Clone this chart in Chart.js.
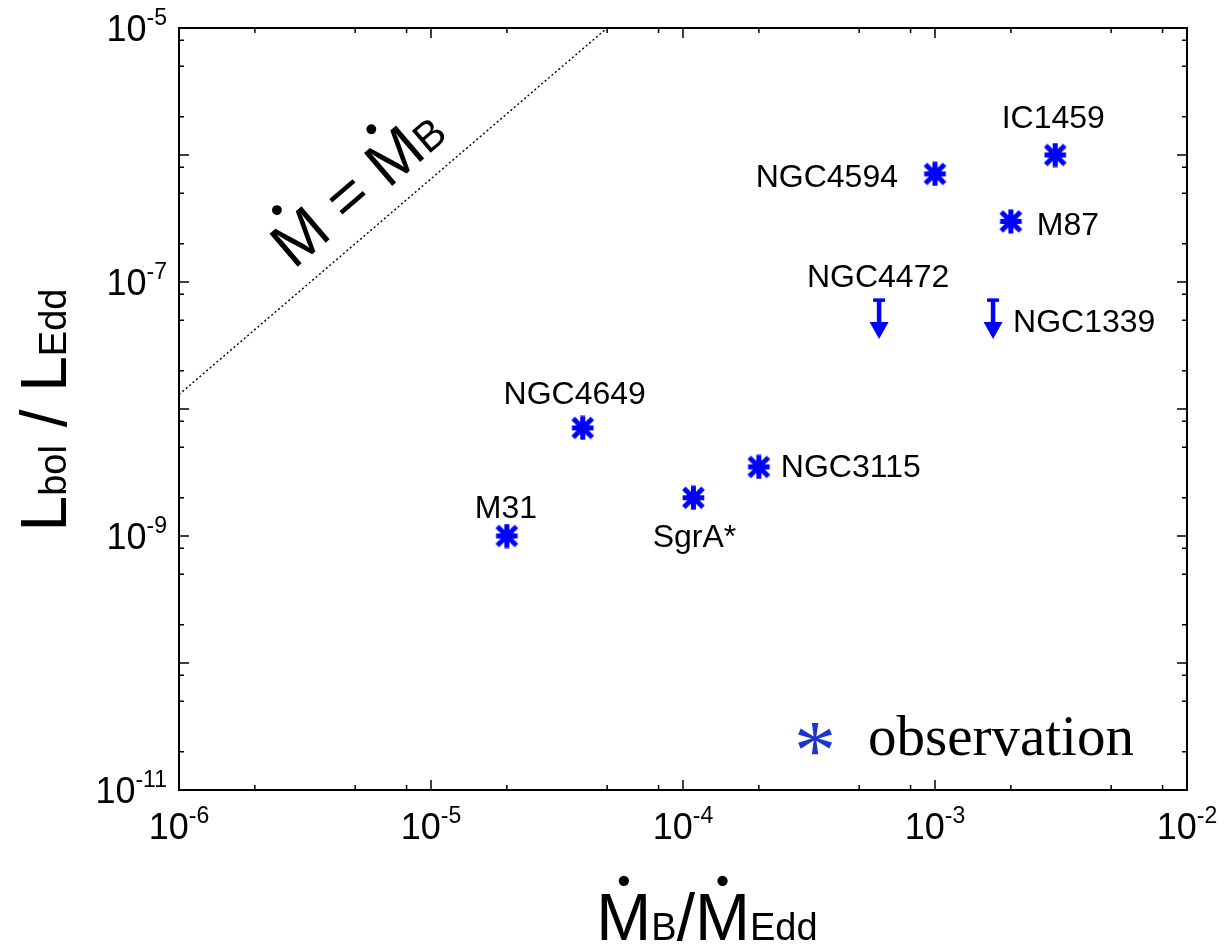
<!DOCTYPE html>
<html>
<head>
<meta charset="utf-8">
<script src="https://cdn.jsdelivr.net/npm/chart.js@4/dist/chart.umd.min.js"></script>
<style>
  html, body { margin: 0; padding: 0; background: #ffffff; }
  #wrap { width: 1227px; height: 946px; }
</style>
</head>
<body>
<div id="wrap"><canvas id="chart" width="1227" height="946"></canvas></div>
<script>
// Detected sources: Bondi accretion rate vs. bolometric luminosity (Eddington units)
const galaxies   = ['M31', 'NGC4649', 'SgrA*', 'NGC3115', 'NGC4594', 'M87', 'IC1459'];
const bondiRate  = [2e-5, 4e-5, 1.1e-4, 2e-4, 1e-3, 2e-3, 3e-3];
const lumRatio   = [1e-9, 7.1e-9, 2e-9, 3.5e-9, 7.1e-7, 3e-7, 1e-6];

// Sources with luminosity upper limits only
const limitGalaxies  = ['NGC4472', 'NGC1339'];
const limitBondiRate = [6e-4, 1.7e-3];
const limitLumRatio  = [7.2e-8, 7.2e-8];

// Reference relation  Mdot = Mdot_B
const equalityLineX = [1e-6, 5e-5];
const equalityLineY = [1.3e-8, 1e-5];

// Axis ticks (powers of ten)
const xTickExponents  = [-6, -5, -4, -3, -2];
const yTickExponents  = [-5, -7, -9, -11];
const xDecades        = [-6, -5, -4, -3, -2];
const yDecades        = [-11, -10, -9, -8, -7, -6, -5];
const minorMantissas  = [2, 5, 8];

// Where each name sits relative to its marker (pixels)
const labelPlacement = {
  'IC1459':  { dx: -2,  dy: -27, align: 'center' },
  'NGC4594': { dx: -37, dy: 13,  align: 'right'  },
  'M87':     { dx: 26,  dy: 14,  align: 'left'   },
  'NGC4472': { dx: -1,  dy: -13, align: 'center' },
  'NGC1339': { dx: 20,  dy: 32,  align: 'left'   },
  'NGC4649': { dx: -8,  dy: -24, align: 'center' },
  'M31':     { dx: -1,  dy: -18, align: 'center' },
  'SgrA*':   { dx: 1,   dy: 49,  align: 'center' },
  'NGC3115': { dx: 22,  dy: 10,  align: 'left'   }
};

const SANS  = '"Liberation Sans", Arial, Helvetica, sans-serif';
const SERIF = '"Liberation Serif", "Times New Roman", Times, serif';
const BLUE  = '#0000ff';

// Bold eight-armed asterisk used as the point symbol
function makeAsterisk(size, lw, color) {
  const c = document.createElement('canvas');
  c.width = size; c.height = size;
  const g = c.getContext('2d');
  g.strokeStyle = color; g.lineWidth = lw; g.lineCap = 'butt';
  const m = size / 2, a = size / 2 - 0.5, d = a * 0.80;
  g.beginPath();
  g.moveTo(m, m - a); g.lineTo(m, m + a);
  g.moveTo(m - a * 0.9, m); g.lineTo(m + a * 0.9, m);
  g.moveTo(m - d, m - d); g.lineTo(m + d, m + d);
  g.moveTo(m + d, m - d); g.lineTo(m - d, m + d);
  g.stroke();
  return c;
}
const asteriskMarker = makeAsterisk(25, 5, BLUE);

// Draw a run of text pieces with mixed sizes on one baseline; pieces with dot:true get an over-dot
function richText(ctx, parts, x, y, align, family) {
  let total = 0;
  const widths = parts.map(p => {
    ctx.font = p.size + 'px ' + family;
    const w = ctx.measureText(p.t).width;
    total += w;
    return w;
  });
  let cx = align === 'center' ? x - total / 2 : (align === 'right' ? x - total : x);
  ctx.textAlign = 'left';
  ctx.textBaseline = 'alphabetic';
  parts.forEach((p, i) => {
    ctx.font = p.size + 'px ' + family;
    ctx.fillText(p.t, cx, y);
    if (p.dot) {
      const cap = p.size * 0.716;
      const r = p.size * 0.078;
      ctx.beginPath();
      ctx.arc(cx + widths[i] / 2, y - cap - p.size * 0.18, r, 0, Math.PI * 2);
      ctx.fill();
    }
    cx += widths[i];
  });
  return total;
}

const decorations = {
  id: 'decorations',
  afterDatasetsDraw(chart) {
    const ctx = chart.ctx;
    const xs = chart.scales.x, ys = chart.scales.y;
    const area = chart.chartArea;

    // upper-limit arrows
    const lim = chart.getDatasetMeta(1);
    ctx.save();
    ctx.strokeStyle = BLUE; ctx.fillStyle = BLUE;
    lim.data.forEach(el => {
      const x = el.x, y = el.y;
      ctx.lineWidth = 3.5;
      ctx.beginPath(); ctx.moveTo(x - 6, y); ctx.lineTo(x + 6, y); ctx.stroke();
      ctx.lineWidth = 4.5;
      ctx.beginPath(); ctx.moveTo(x, y); ctx.lineTo(x, y + 24); ctx.stroke();
      ctx.beginPath();
      ctx.moveTo(x - 9.5, y + 22); ctx.lineTo(x + 9.5, y + 22); ctx.lineTo(x, y + 39);
      ctx.closePath(); ctx.fill();
    });
    ctx.restore();

    // frame
    ctx.save();
    ctx.strokeStyle = '#000';
    ctx.lineWidth = 2;
    ctx.strokeRect(area.left, area.top, area.right - area.left, area.bottom - area.top);

    // ticks on all four sides, pointing inward
    ctx.lineWidth = 1.5;
    ctx.beginPath();
    const xTick = (v, len) => {
      const px = xs.getPixelForValue(v);
      ctx.moveTo(px, area.bottom); ctx.lineTo(px, area.bottom - len);
      ctx.moveTo(px, area.top); ctx.lineTo(px, area.top + len);
    };
    const yTick = (v, len) => {
      const py = ys.getPixelForValue(v);
      ctx.moveTo(area.left, py); ctx.lineTo(area.left + len, py);
      ctx.moveTo(area.right, py); ctx.lineTo(area.right - len, py);
    };
    xDecades.forEach((e, i) => {
      xTick(Math.pow(10, e), 10);
      if (i < xDecades.length - 1) minorMantissas.forEach(m => xTick(m * Math.pow(10, e), 5));
    });
    yDecades.forEach((e, i) => {
      yTick(Math.pow(10, e), 10);
      if (i < yDecades.length - 1) minorMantissas.forEach(m => yTick(m * Math.pow(10, e), 5));
    });
    ctx.stroke();

    // tick labels with superscript exponents
    const MAIN = 36, SUP = 23;
    ctx.fillStyle = '#000';
    xTickExponents.forEach(e => {
      const px = xs.getPixelForValue(Math.pow(10, e));
      ctx.font = MAIN + 'px ' + SANS;
      const wMain = ctx.measureText('10').width;
      ctx.font = SUP + 'px ' + SANS;
      const sup = String(e);
      const wSup = ctx.measureText(sup).width;
      const x0 = px - (wMain + wSup) / 2;
      ctx.textAlign = 'left'; ctx.textBaseline = 'alphabetic';
      ctx.font = MAIN + 'px ' + SANS;
      ctx.fillText('10', x0, area.bottom + 49);
      ctx.font = SUP + 'px ' + SANS;
      ctx.fillText(sup, x0 + wMain, area.bottom + 33);
    });
    yTickExponents.forEach(e => {
      const py = ys.getPixelForValue(Math.pow(10, e));
      ctx.font = MAIN + 'px ' + SANS;
      const wMain = ctx.measureText('10').width;
      ctx.font = SUP + 'px ' + SANS;
      const sup = String(e);
      const wSup = ctx.measureText(sup).width;
      const xEnd = area.left - 12;
      ctx.textAlign = 'left'; ctx.textBaseline = 'alphabetic';
      ctx.font = MAIN + 'px ' + SANS;
      ctx.fillText('10', xEnd - wSup - wMain, py + 13);
      ctx.font = SUP + 'px ' + SANS;
      ctx.fillText(sup, xEnd - wSup, py - 3);
    });

    // axis titles
    richText(ctx, [
      { t: 'M', size: 66, dot: true },
      { t: 'B', size: 38 },
      { t: '/', size: 66 },
      { t: 'M', size: 66, dot: true },
      { t: 'Edd', size: 38 }
    ], (area.left + area.right) / 2 + 24, 940, 'center', SANS);

    ctx.save();
    ctx.translate(66, 410);
    ctx.rotate(-Math.PI / 2);
    richText(ctx, [
      { t: 'L', size: 64 },
      { t: 'bol', size: 38 },
      { t: ' / ', size: 64 },
      { t: 'L', size: 64 },
      { t: 'Edd', size: 38 }
    ], 0, 0, 'center', SANS);
    ctx.restore();

    // source names
    ctx.font = '32px ' + SANS;
    ctx.textBaseline = 'alphabetic';
    const meta0 = chart.getDatasetMeta(0);
    meta0.data.forEach((el, i) => {
      const p = labelPlacement[galaxies[i]];
      ctx.textAlign = p.align;
      ctx.fillText(galaxies[i], el.x + p.dx, el.y + p.dy);
    });
    lim.data.forEach((el, i) => {
      const p = labelPlacement[limitGalaxies[i]];
      ctx.textAlign = p.align;
      ctx.fillText(limitGalaxies[i], el.x + p.dx, el.y + p.dy);
    });

    // label along the Mdot = Mdot_B line
    const l0x = xs.getPixelForValue(equalityLineX[0]), l0y = ys.getPixelForValue(equalityLineY[0]);
    const l1x = xs.getPixelForValue(equalityLineX[1]), l1y = ys.getPixelForValue(equalityLineY[1]);
    const ang = Math.atan2(l1y - l0y, l1x - l0x);
    const t = 0.48;
    ctx.save();
    ctx.translate(l0x + t * (l1x - l0x), l0y + t * (l1y - l0y));
    ctx.rotate(ang);
    richText(ctx, [
      { t: 'M', size: 63, dot: true },
      { t: ' = ', size: 63 },
      { t: 'M', size: 63, dot: true },
      { t: 'B', size: 42 }
    ], 0, -20, 'center', SANS);
    ctx.restore();

    // legend
    ctx.fillStyle = '#1c35d0';
    ctx.font = '84px ' + SERIF;
    ctx.textAlign = 'center';
    ctx.textBaseline = 'alphabetic';
    const m = ctx.measureText('*');
    ctx.fillText('*', 815, 739 + m.actualBoundingBoxAscent - (m.actualBoundingBoxAscent + m.actualBoundingBoxDescent) / 2);
    ctx.fillStyle = '#000';
    ctx.font = '57px ' + SERIF;
    ctx.textAlign = 'left';
    ctx.fillText('observation', 868, 755);
    ctx.restore();
  }
};

const ctx = document.getElementById('chart').getContext('2d');
new Chart(ctx, {
  type: 'scatter',
  data: {
    datasets: [
      {
        label: 'observation',
        data: galaxies.map((n, i) => ({ x: bondiRate[i], y: lumRatio[i] })),
        pointStyle: asteriskMarker,
        pointRadius: 12,
        pointHoverRadius: 12,
        borderColor: BLUE,
        backgroundColor: BLUE
      },
      {
        label: 'upper limits',
        data: limitGalaxies.map((n, i) => ({ x: limitBondiRate[i], y: limitLumRatio[i] })),
        pointRadius: 0,
        pointHoverRadius: 0
      },
      {
        label: 'Mdot = Mdot_B',
        type: 'line',
        data: equalityLineX.map((x, i) => ({ x: x, y: equalityLineY[i] })),
        borderColor: '#000000',
        borderWidth: 1.4,
        borderDash: [2, 2.5],
        pointRadius: 0,
        showLine: true,
        fill: false
      }
    ]
  },
  options: {
    responsive: false,
    animation: false,
    devicePixelRatio: 1,
    events: [],
    layout: { padding: { left: 179, right: 40, top: 28, bottom: 156 } },
    scales: {
      x: { type: 'logarithmic', min: 1e-6, max: 1e-2, display: false },
      y: { type: 'logarithmic', min: 1e-11, max: 1e-5, display: false }
    },
    plugins: { legend: { display: false }, tooltip: { enabled: false } }
  },
  plugins: [decorations]
});
</script>
</body>
</html>
